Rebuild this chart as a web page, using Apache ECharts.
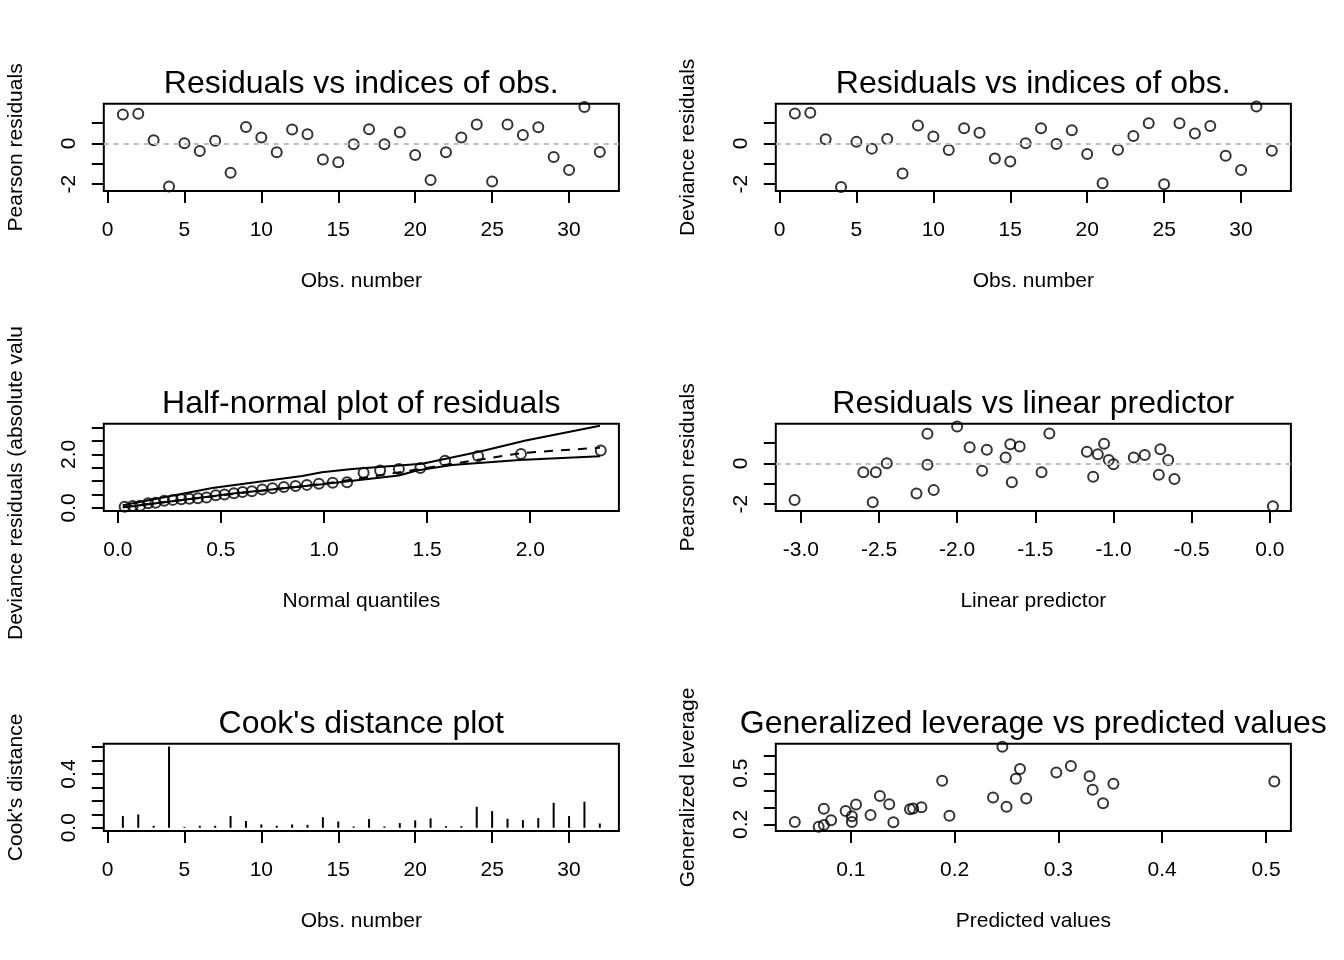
<!DOCTYPE html>
<html>
<head>
<meta charset="utf-8">
<script src="https://cdn.jsdelivr.net/npm/echarts@6/dist/echarts.min.js"></script>
<style>
  html, body { margin: 0; padding: 0; background: #fff; }
  #main { width: 1344px; height: 960px; }
</style>
</head>
<body>
<div id="main"></div>
<script>
// observation numbers and residuals (panels 1, 2)
const obsNumber = [1, 2, 3, 4, 5, 6, 7, 8, 9, 10, 11, 12, 13, 14, 15, 16,
  17, 18, 19, 20, 21, 22, 23, 24, 25, 26, 27, 28, 29, 30, 31, 32];
const pearsonResid = [1.41, 1.44, 0.15, -2.11, 0.00, -0.38, 0.13, -1.44, 0.80, 0.28, -0.44, 0.67,
  0.44, -0.79, -0.93, -0.05, 0.69, -0.05, 0.54, -0.57, -1.79, -0.44, 0.28, 0.92,
  -1.87, 0.92, 0.41, 0.79, -0.67, -1.30, 1.77, -0.43];
const devianceResid = [1.46, 1.49, 0.20, -2.13, 0.07, -0.26, 0.21, -1.48, 0.87, 0.33, -0.33, 0.74,
  0.51, -0.74, -0.89, 0.00, 0.74, -0.03, 0.64, -0.52, -1.95, -0.31, 0.36, 0.98,
  -2.00, 0.98, 0.48, 0.85, -0.61, -1.30, 1.80, -0.36];

// half-normal plot (panel 3)
const halfNormQuant = [0.033, 0.072, 0.108, 0.147, 0.183, 0.225, 0.267, 0.308, 0.347, 0.388, 0.430,
  0.475, 0.517, 0.563, 0.605, 0.650, 0.700, 0.750, 0.805, 0.862, 0.917, 0.975, 1.042,
  1.112, 1.192, 1.272, 1.363, 1.467, 1.587, 1.747, 1.955, 2.342];
const halfNormResid = [0.04, 0.07, 0.08, 0.17, 0.19, 0.27, 0.30, 0.32, 0.34, 0.36, 0.39, 0.47,
  0.50, 0.55, 0.59, 0.62, 0.69, 0.73, 0.78, 0.82, 0.86, 0.90, 0.94, 0.96,
  1.31, 1.40, 1.45, 1.49, 1.76, 1.94, 2.01, 2.14];
const envUpperQ = [0.024, 0.458, 0.894, 0.99, 1.137, 1.476, 1.752, 1.978, 2.338];
const envUpperVal = [0.10, 0.74, 1.19, 1.33, 1.45, 1.65, 2.10, 2.52, 3.07];
const envLowerQ = [0.024, 0.57, 0.99, 1.363, 1.45, 1.62, 1.946, 2.338];
const envLowerVal = [0.02, 0.55, 0.886, 1.21, 1.40, 1.60, 1.79, 1.93];
const envMidQ = [0.024, 0.5, 1.0, 1.3, 1.6, 1.96, 2.338];
const envMidVal = [0.03, 0.47, 0.90, 1.25, 1.62, 2.05, 2.25];

// residuals vs linear predictor (panel 4)
const linPred = [-3.04, -2.60, -2.52, -2.45, -2.54, -2.19, -2.19, -2.26, -2.15, -2.00, -1.92, -1.81,
  -1.84, -1.66, -1.60, -1.69, -1.65, -1.41, -1.46, -1.17, -1.10, -1.06, -1.03, -1.00,
  -1.13, -0.87, -0.80, -0.70, -0.65, -0.71, -0.61, 0.02];
const linPredResid = [-1.79, -0.44, -0.44, 0.00, -1.90, 1.44, -0.07, -1.48, -1.31, 1.80, 0.79, 0.66,
  -0.36, 0.93, 0.82, 0.28, -0.93, 1.46, -0.44, 0.56, 0.44, 0.95, 0.16, -0.05,
  -0.66, 0.28, 0.41, 0.69, 0.16, -0.56, -0.77, -2.10];

// Cook's distance (panel 5)
const cookDist = [0.087, 0.099, 0.015, 0.605, 0.007, 0.015, 0.015, 0.087, 0.050, 0.025, 0.015, 0.025,
  0.022, 0.079, 0.047, 0.010, 0.065, 0.010, 0.035, 0.055, 0.070, 0.012, 0.012, 0.156,
  0.124, 0.067, 0.057, 0.072, 0.186, 0.087, 0.194, 0.032];

// generalized leverage vs predicted values (panel 6)
const predValues = [0.046, 0.069, 0.074, 0.074, 0.081, 0.095, 0.101, 0.101, 0.105, 0.119, 0.128,
  0.137, 0.141, 0.157, 0.160, 0.168, 0.188, 0.195, 0.237, 0.250, 0.246, 0.263,
  0.259, 0.269, 0.298, 0.312, 0.330, 0.333, 0.353, 0.343, 0.508];
const genLeverage = [0.214, 0.186, 0.196, 0.291, 0.224, 0.279, 0.247, 0.214, 0.316, 0.255, 0.367,
  0.318, 0.212, 0.289, 0.293, 0.300, 0.456, 0.251, 0.358, 0.304, 0.655, 0.525,
  0.468, 0.352, 0.505, 0.543, 0.482, 0.403, 0.438, 0.324, 0.452];

// titles, axis names, ticks
const panelTitles = ['Residuals vs indices of obs.', 'Residuals vs indices of obs.',
  'Half-normal plot of residuals', 'Residuals vs linear predictor',
  "Cook's distance plot", 'Generalized leverage vs predicted values'];
const xNames = ['Obs. number', 'Obs. number', 'Normal quantiles', 'Linear predictor',
  'Obs. number', 'Predicted values'];
const yNames = ['Pearson residuals', 'Deviance residuals', 'Deviance residuals (absolute values)',
  'Pearson residuals', "Cook's distance", 'Generalized leverage'];
const obsTicks = [0, 5, 10, 15, 20, 25, 30];
const residTicks = [-2, -1, 0, 1];
const residLabels = [-2, 0];
const halfQTicks = [0, 0.5, 1, 1.5, 2];
const halfRTicks = [0, 0.5, 1, 1.5, 2, 2.5, 3];
const halfRLabels = [0, 2];
const linPredTicks = [-3, -2.5, -2, -1.5, -1, -0.5, 0];
const cookTicks = [0, 0.1, 0.2, 0.3, 0.4, 0.5, 0.6];
const cookLabels = [0, 0.4];
const predTicks = [0.1, 0.2, 0.3, 0.4, 0.5];
const levTicks = [0.2, 0.3, 0.4, 0.5, 0.6];
const levLabels = [0.2, 0.5];

const FONT = 'Liberation Sans, Arial, Helvetica, sans-serif';
const zip = (a, b) => a.map((v, i) => [v, b[i]]);

// plot regions, R style: 3 rows x 2 columns
const cols = [103.8, 775.8];
const rows = [103.8, 423.8, 743.8];
const grids = [];
for (let r = 0; r < 3; r++) {
  for (let c = 0; c < 2; c++) {
    grids.push({
      left: cols[c], top: rows[r], width: 515.1, height: 87.2,
      show: true, borderColor: '#000', borderWidth: 2, backgroundColor: 'transparent'
    });
  }
}

function axis(gridIndex, isY, min, max, ticks, labels, digits, name) {
  return {
    type: 'value',
    gridIndex: gridIndex,
    min: min,
    max: max,
    axisLine: { show: false, onZero: false },
    splitLine: { show: false },
    axisTick: {
      show: true, inside: false, length: 12,
      lineStyle: { color: '#000', width: 2 },
      customValues: ticks
    },
    axisLabel: {
      customValues: labels,
      formatter: (v) => Number(v).toFixed(digits),
      fontSize: 21, color: '#000', fontFamily: FONT,
      margin: isY ? 24 : 29,
      rotate: isY ? 90 : 0
    },
    name: name,
    nameLocation: 'middle',
    nameGap: isY ? 77 : 80,
    nameTextStyle: { fontSize: 21, color: '#000', fontFamily: FONT }
  };
}

const xAxes = [
  axis(0, false, -0.24, 33.24, obsTicks, obsTicks, 0, xNames[0]),
  axis(1, false, -0.24, 33.24, obsTicks, obsTicks, 0, xNames[1]),
  axis(2, false, -0.068, 2.43, halfQTicks, halfQTicks, 1, xNames[2]),
  axis(3, false, -3.16, 0.135, linPredTicks, linPredTicks, 1, xNames[3]),
  axis(4, false, -0.24, 33.24, obsTicks, obsTicks, 0, xNames[4]),
  axis(5, false, 0.0277, 0.524, predTicks, predTicks, 1, xNames[5])
];
const yAxes = [
  axis(0, true, -2.33, 1.93, residTicks, residLabels, 0, yNames[0]),
  axis(1, true, -2.33, 1.93, residTicks, residLabels, 0, yNames[1]),
  axis(2, true, -0.115, 3.14, halfRTicks, halfRLabels, 1, ''),
  axis(3, true, -2.33, 1.93, residTicks, residLabels, 0, yNames[3]),
  axis(4, true, -0.024, 0.625, cookTicks, cookLabels, 1, yNames[4]),
  axis(5, true, 0.161, 0.673, levTicks, levLabels, 1, yNames[5])
];

const circleStyle = {
  color: 'rgba(0,0,0,0)', borderColor: '#000', borderWidth: 2
};
function points(i, data) {
  return {
    type: 'scatter', xAxisIndex: i, yAxisIndex: i, data: data,
    symbol: 'circle', symbolSize: 10, itemStyle: circleStyle, z: 3
  };
}
const zeroLine = {
  silent: true, symbol: ['none', 'none'], label: { show: false },
  lineStyle: { color: '#bebebe', type: [5, 5], width: 2 },
  data: [{ yAxis: 0 }], animation: false
};
function line(i, data, dashed) {
  return {
    type: 'line', xAxisIndex: i, yAxisIndex: i, data: data, showSymbol: false,
    symbol: 'none', lineStyle: { color: '#000', width: 2, type: dashed ? [9, 8] : 'solid' }, z: 2
  };
}

const series = [];
const s1 = points(0, zip(obsNumber, pearsonResid)); s1.markLine = zeroLine; series.push(s1);
const s2 = points(1, zip(obsNumber, devianceResid)); s2.markLine = zeroLine; series.push(s2);
series.push(line(2, zip(envUpperQ, envUpperVal), false));
series.push(line(2, zip(envLowerQ, envLowerVal), false));
series.push(line(2, zip(envMidQ, envMidVal), true));
series.push(points(2, zip(halfNormQuant, halfNormResid)));
const s4 = points(3, zip(linPred, linPredResid)); s4.markLine = zeroLine; series.push(s4);
series.push({
  type: 'bar', xAxisIndex: 4, yAxisIndex: 4, data: zip(obsNumber, cookDist),
  barWidth: 2, itemStyle: { color: '#000' }
});
series.push(points(5, zip(predValues, genLeverage)));

const titles = panelTitles.map((t, i) => ({
  text: t,
  left: cols[i % 2] + 257.5,
  top: rows[Math.floor(i / 2)] - 36,
  textAlign: 'center',
  padding: 0,
  textStyle: { fontSize: 32, fontWeight: 'normal', color: '#000', fontFamily: FONT }
}));

const chart = echarts.init(document.getElementById('main'));
chart.setOption({
  animation: false,
  backgroundColor: '#fff',
  title: titles,
  grid: grids,
  xAxis: xAxes,
  yAxis: yAxes,
  series: series,
  graphic: [{
    // long y label of panel 3 is cut at its figure region, as in R
    type: 'text', x: 16, y: 640, rotation: Math.PI / 2,
    style: {
      text: 'Deviance residuals (absolute valu', fontSize: 21, fontFamily: FONT,
      fill: '#000', align: 'left', verticalAlign: 'middle'
    }
  }]
});
</script>
</body>
</html>
